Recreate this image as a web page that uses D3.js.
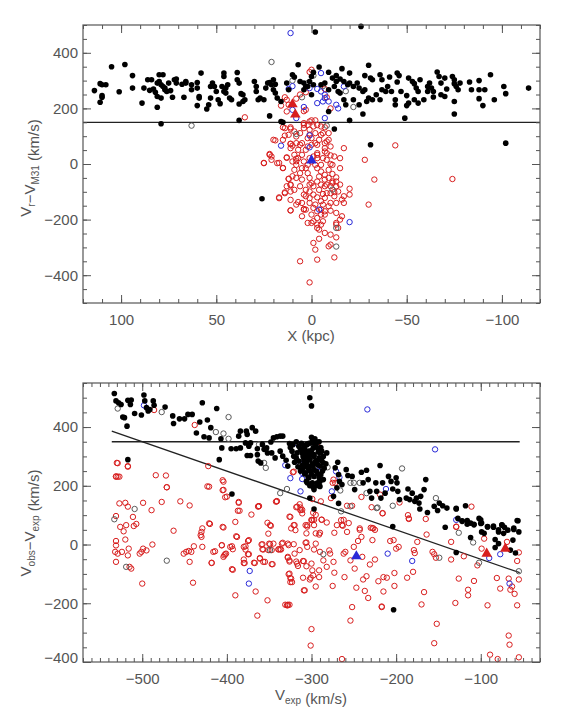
<!DOCTYPE html>
<html><head><meta charset="utf-8">
<script src="https://cdn.jsdelivr.net/npm/d3@7"></script>
<style>body{margin:0;background:#fff}svg{display:block}</style>
</head><body><svg id="chart" width="565" height="715"></svg>
<script>
// ---------- TOP PANEL DATA: [X (kpc), Vr - VM31 (km/s)] ----------
const topBlack = [[114,264],[111,289],[110,285],[108,285],[111,222],[110,246],[110,240],[105,350],[101,260],[98,358],[94,318],[94,273],[89,219],[88,273],[86,303],[84,303],[85,265],[82,258],[83,270],[81,291],[80,321],[78,321],[80,297],[79,285],[78,279],[77,267],[76,261],[74,264],[77,273],[75,291],[81,243],[79,237],[81,204],[73,240],[72,303],[71,306],[71,291],[68,287],[67,240],[66,297],[66,291],[63,267],[63,285],[60,293],[60,273],[58,327],[59,243],[59,237],[60,210],[55,198],[54,213],[53,237],[53,279],[52,291],[51,279],[50,261],[49,231],[48,217],[47,279],[46,327],[46,315],[46,261],[45,273],[44,285],[45,255],[43,237],[42,231],[39,329],[39,303],[38,291],[38,216],[37,253],[36,249],[36,225],[35,231],[38,157],[30,297],[29,279],[29,261],[28,231],[27,237],[25,231],[24,273],[23,291],[22,293],[21,285],[20,303],[19,287],[20,267],[19,255],[18,237],[16,225],[22,173],[16,153],[13,291],[12,267],[10,321],[9,313],[7,357],[6,297],[4,291],[3,279],[1,297],[0,315],[-1,285],[79,145],[26,-125],[15,150],
[-2,475],[-26,495],[-4,349],[-1,330],[-16,343],[-20,327],[-30,355],[-28,318],[-31,309],[-32,303],[-36,321],[-37,303],[-41,313],[-45,327],[-46,318],[-45,295],[-51,309],[-53,297],[-54,289],[-57,303],[-55,273],[-56,261],[-61,279],[-62,291],[-63,273],[-64,261],[-64,241],[-66,331],[-67,315],[-68,291],[-70,309],[-71,270],[-74,315],[-75,303],[-75,289],[-76,279],[-77,267],[-78,291],[-75,225],[-75,180],[-83,295],[-84,267],[-88,300],[-88,267],[-88,235],[-91,267],[-90,210],[-94,321],[-96,231],[-101,279],[-102,253],[-114,273],[-49,165],[-20,157],[-27,180],[-12,126],[-9,330],[-11,309],[-13,318],[-13,297],[-15,306],[-17,297],[-19,285],[-20,291],[-22,279],[-24,291],[-25,273],[-27,261],[-28,267],[-30,237],[-32,231],[-34,249],[-36,231],[-37,267],[-39,261],[-40,279],[-42,261],[-44,231],[-47,261],[-50,246],[-51,219],[-54,231],[-56,219],[-59,231],[-61,261],[-68,249],[-70,243],[-17,231],[-22,231],[-18,213],[-25,213],[-29,225],[-44,213],[-50,210],[-5,285],[-7,291],[-9,267],[-12,279],[-14,261],[0,249],[2,279],[4,267],[-9,189],[-15,255],[-102,75],[-31,69]];
const topRed = [[35,168],[15,132],[11,127],[19,85],[15,87],[11,72],[8,75],[22,36],[21,27],[25,3],[18,3],[15,-15],[13,24],[9,33],[8,19],[8,10],[9,-21],[10,-44],[12,-53],[11,-74],[9,-93],[14,-105],[17,-123],[11,-129],[7,-137],[11,-167],[4,-162],[3,-164],[5,-188],[2,-212],[0,-212],[-3,-230],[-4,-236],[-3,-218],[-5,-218],[-7,-248],[-4,-269],[-1,-284],[-2,-308],[6,-350],[-3,-344],[1,-426],[-9,-296],[-10,-290],[-12,-336],[-10,-254],[-13,-264],[-14,-230],[-13,-218],[-15,-200],[-13,-212],[-16,-188],[-13,-176],[-10,-168],[-7,-170],[-6,-146],[-10,-140],[-13,-140],[-17,-140],[-20,-110],[-20,-89],[-17,-116],[-16,-128],[-30,-146],[-33,-56],[-28,15],[-44,67],[-17,57],[-15,21],[-15,-15],[-13,-48],[-13,-63],[-11,-68],[-9,-50],[-11,-36],[-10,0],[-10,31],[-12,27],[-8,39],[-7,57],[-7,75],[-8,81],[-5,105],[-6,111],[-7,132],[-9,111],[-4,87],[-3,69],[-3,39],[-3,21],[-2,-3],[-3,-15],[-5,-27],[-4,-45],[-3,-63],[-5,-74],[-7,-80],[-4,-93],[-6,-108],[-3,-120],[-7,-122],[-8,-105],[-5,-134],[-2,-146],[1,-140],[3,-116],[3,-93],[1,-74],[0,-69],[-1,-80],[1,-50],[2,-33],[3,-15],[2,-3],[4,9],[5,33],[3,51],[2,63],[5,75],[7,51],[6,111],[4,129],[2,141],[1,123],[-1,135],[-2,111],[0,93],[2,93],[1,105],[4,147],[1,153],[6,-33],[8,-50],[5,-56],[6,-80],[4,-110],[1,-99],[1,-123],[-1,-110],[-1,-158],[-3,-170],[0,-182],[-5,-182],[-3,-194],[-7,-182],[-6,-206],[-1,-206],[-5,-164],[-9,-152],[-12,-116],[-10,-105],[-12,-101],[-13,-80],[-10,-80],[-8,-74],[-7,-56],[-7,-39],[-5,-3],[-8,15],[-6,21],[-7,45],[-3,33],[-1,27],[0,9],[1,21],[7,21],[8,-3],[10,9],[5,-15],[11,-99],[13,-80],[4,-164],[8,-146],[5,-140],[-11,-63],[-15,-74],[-14,-99],[-9,-21],[-11,-3],[-10,63],[-9,87],[0,69],[-2,75],[8,99],[11,57],[6,69],[9,117],[12,105],
[25,4],[22,33],[21,15],[20,87],[17,4],[15,-14],[13,22],[17,-120],[14,-102],[11,-167],[12,-54],[11,-76],[14,129],[14,102],[11,73],[10,66],[-74,-54],
[13,231],[13,189],[12,213],[1,331],[11,132],[4,141],[0,339],[3,258],[3,195],[4,190],[0,157],[-2,157],[-3,140],[-5,135],[8,235],[6,250],[-8,240],[-10,200],[16,210],[14,240],[-7,270]];
const topBlue = [[11,471],[16,66],[10,195],[8,165],[10,280],[12,270],[-5,327],[-5,261],[-7,249],[-7,237],[-3,270],[-6,225],[-9,225],[-13,213],[-14,200],[-17,279],[-7,165],[1,273],[4,205],[-3,219],[1,103],[1,60],[-4,-164],[-20,-209]];
const topGray = [[21,367],[63,138],[-1,318],[2,291],[-22,205],[-8,138],[8,108],[-11,-92],[-13,-297],[-13,-230],[10,300],[-6,280],[-18,262],[5,240]];
const topRedTri = [[10,215],[8.5,178]];
const topBlueTri = [[0,13]];
const topCutLine = [[120,150],[-120,150]];

// ---------- BOTTOM PANEL DATA: [V_exp, V_obs - V_exp] (km/s) ----------
const botBlack = [[-533,514],[-531,489],[-528,483],[-525,477],[-517,491],[-513,492],[-514,477],[-523,434],[-521,432],[-518,403],[-509,446],[-501,441],[-498,509],[-497,489],[-495,466],[-493,455],[-491,460],[-487,489],[-486,474],[-473,468],[-464,438],[-463,412],[-456,428],[-450,428],[-446,443],[-441,443],[-429,483],[-432,417],[-423,424],[-412,463],[-419,398],[-436,380],[-427,367],[-421,363],[-407,360],[-406,329],[-409,289],[-394,172],[-517,289],[-395,326],[-389,326],[-386,369],[-384,386],[-377,386],[-376,375],[-370,398],[-366,386],[-378,346],[-374,335],[-372,346],[-384,329],[-376,303],[-372,303],[-364,326],[-364,306],[-358,341],[-356,324],[-363,284],[-360,278],[-353,329],[-352,312],[-348,349],[-347,312],[-345,363],[-341,367],[-337,369],[-334,369],[-343,295],[-337,318],[-334,301],[-330,287],[-328,267],[-326,344],[-323,318],[-321,301],[-317,312],[-315,284],[-313,324],[-311,255],[-309,295],[-307,278],[-306,312],[-304,267],[-302,500],[-300,472],[-302,289],[-300,346],[-302,158],
[-299,352],[-293,349],[-282,312],[-311,312],[-308,295],[-306,278],[-303,318],[-302,289],[-299,267],[-297,306],[-295,284],[-294,249],[-293,329],[-291,295],[-290,267],[-289,238],[-288,318],[-286,278],[-286,221],[-303,227],[-307,244],[-305,210],[-299,210],[-297,187],[-293,210],[-290,198],[-310,261],[-301,249],[-297,232],[-291,227],[-309,335],[-305,341],[-298,329],[-295,341],[-290,312],[-301,306],[-307,306],[-304,261],[-293,272],[-289,289],[-297,121],[-274,164],[-270,193],[-269,280],[-272,261],[-268,238],[-267,215],[-264,204],[-259,255],[-257,235],[-252,232],[-249,187],[-241,246],[-235,253],[-233,221],[-239,210],[-231,181],[-229,158],[-224,210],[-219,269],[-223,181],[-218,158],[-216,210],[-213,175],[-209,232],[-206,215],[-200,227],[-199,210],[-204,189],[-198,181],[-196,153],[-188,158],[-186,189],[-178,147],[-176,158],[-173,141],[-171,164],[-167,187],[-165,221],[-172,121],[-163,109],[-155,130],[-149,141],[-145,132],[-140,124],[-151,116],[-129,121],[-118,132],[-122,79],[-116,82],[-112,73],[-108,67],[-100,84],[-99,73],[-92,61],[-85,59],[-79,50],[-75,67],[-72,59],[-61,56],[-57,82],[-142,59],[-184,153],[-181,175],[-204,61],
[-268,140],[-203,-222],[-129,-27],[-112,24],[-129,123],[-127,89],[-122,81],[-116,69],[-108,69],[-102,89],[-100,72],[-99,43],[-96,38],[-92,60],[-85,63],[-83,17],[-79,43],[-79,3],[-75,66],[-73,38],[-68,49],[-62,15],[-61,51],[-56,81],[-55,43],[-59,-29],[-65,-19],[-83,-10],
[-325,330],[-322,340],[-318,350],[-315,335],[-312,345],[-310,300],[-308,325],[-306,340],[-320,280],[-316,265],[-313,250],[-311,270],[-318,295],[-305,300],[-303,255],[-308,240],[-304,230],[-300,240],[-297,255],[-302,200],[-306,215],[-298,195],[-294,200],[-290,215],[-287,250],[-285,260],[-283,275],[-292,315],[-289,330],[-296,360],[-300,365],[-303,345],[-291,350],[-286,300],[-288,285],[-294,285],[-297,300],[-300,320],[-304,315],[-309,285],[-292,240],[-299,275],[-306,265]];
const botRed = [[-529,277],[-529,231],[-531,231],[-527,231],[-517,265],[-527,140],[-531,97],[-526,60],[-522,45],[-519,66],[-520,142],[-517,129],[-511,94],[-510,63],[-507,70],[-531,-3],[-531,12],[-532,-25],[-531,-59],[-529,-31],[-524,-25],[-520,17],[-516,-14],[-517,-37],[-515,-76],[-513,-82],[-501,-25],[-503,-31],[-499,-14],[-495,-20],[-500,-133],[-488,0],[-499,142],[-489,117],[-472,235],[-471,195],[-477,145],[-463,47],[-455,147],[-444,133],[-451,-31],[-448,-25],[-445,-22],[-442,-25],[-439,-6],[-444,-59],[-440,-130],[-430,26],[-429,55],[-429,-8],[-421,197],[-420,70],[-418,-63],[-414,-23],[-406,-2],[-405,60],[-403,-37],[-401,-31],[-404,214],[-404,186],[-400,163],[-394,-6],[-393,-86],[-390,-173],[-388,26],[-386,142],[-385,115],[-390,77],[-380,-8],[-378,-17],[-379,-63],[-374,15],[-375,-33],[-371,102],[-367,-63],[-366,-160],[-364,-242],[-362,131],[-358,1],[-361,-48],[-357,-17],[-355,-59],[-352,74],[-351,37],[-349,66],[-352,-190],[-351,-19],[-349,1],[-346,-67],[-345,3],[-341,148],[-339,-17],[-336,-17],[-334,6],[-328,-207],[-326,-205],[-327,-2],[-328,-42],[-326,-54],[-326,-99],[-324,-116],[-323,-128],[-320,-31],[-321,1],[-319,49],[-325,94],[-320,66],[-321,248],
[-430,43],[-421,72],[-431,32],[-404,58],[-363,129],[-342,146],[-348,64],[-389,28],[-375,12],[-406,-3],[-396,-8],[-393,-16],[-416,-25],[-418,-62],[-402,-33],[-404,-42],[-394,-84],[-380,-51],[-380,-63],[-378,-6],[-374,-33],[-368,-62],[-361,-46],[-357,-59],[-358,-16],[-359,0],[-350,3],[-347,-19],[-347,-67],[-339,-16],[-337,-16],[-335,3],[-331,-205],[-328,-205],[-328,-45],[-326,-58],[-327,-101],[-325,-114],[-325,-128],[-318,-58],[-317,-65],[-316,-73],[-310,-56],[-310,-113],[-309,-156],[-302,-119],[-300,-65],[-300,-288],[-301,-344],[-314,-19],[-307,66],[-306,7],[-306,38],[-311,106],[-313,126],[-321,66],[-324,55],[-326,95],[-328,3],[-314,137],[-313,117],[-317,129],[-300,83],[-298,108],
[-305,66],[-307,6],[-299,83],[-297,66],[-295,38],[-291,34],[-290,40],[-288,85],[-295,3],[-290,-25],[-297,-17],[-305,-8],[-309,-57],[-306,-74],[-301,-113],[-308,-156],[-298,-105],[-295,-143],[-299,-88],[-291,-88],[-291,-111],[-286,-54],[-282,-76],[-279,-20],[-278,-31],[-274,-59],[-275,-141],[-273,40],[-273,-96],[-270,66],[-265,83],[-264,66],[-262,-31],[-260,-25],[-261,-111],[-258,43],[-254,-54],[-252,-213],[-254,-259],[-250,-8],[-249,-82],[-247,-147],[-245,12],[-243,55],[-241,26],[-240,-42],[-239,-119],[-237,-158],[-233,-182],[-235,-108],[-231,-68],[-230,57],[-227,55],[-228,15],[-225,-51],[-221,-125],[-217,-211],[-215,-111],[-215,-160],[-211,-113],[-207,12],[-203,15],[-202,-97],[-202,-141],[-200,-14],[-197,-8],[-187,-113],[-180,-93],[-178,-29],[-179,-19],[-175,9],[-170,-204],[-167,-162],[-164,34],[-157,-25],[-155,-33],[-153,-45],[-152,-270],[-155,-336],[-135,9],[-135,-51],[-130,-199],[-129,60],[-126,-116],[-120,-40],[-115,-154],[-115,-173],[-108,-124],[-104,-71],[-99,-14],[-96,20],[-92,-207],[-89,-375],[-81,-114],[-80,-390],[-77,-150],[-69,9],[-67,-116],[-67,-310],[-66,-341],[-65,-154],[-63,-143],[-60,-168],[-57,-207],[-57,-56],[-55,-27],[-55,-119],[-55,-384],[-111,129],[-186,100],[-216,106],[-185,89],[-264,-390],[-329,-207],[-217,-213],
[-293,335],[-299,155],[-289,147],[-274,221],[-275,210],[-277,158],[-258,132],[-252,132],[-241,162],[-229,127],[-216,107],[-219,170],[-196,143],[-185,87],[-165,87],[-129,61],[-272,210],[-311,118],[-305,61],[-297,84],[-295,101],[-288,84],[-282,75],[-262,84],[-256,73],[-263,64],[-243,50],[-228,56],[-225,50],
[-486,458],[-438,407],[-422,267],[-405,219],[-405,185],[-402,161],[-423,198],[-386,145],[-387,115],[-363,130],[-341,147],[-322,246],[-318,127],[-313,118],[-300,84],[-471,195],[-484,236],[-530,278],[-531,232],[-517,267]];
const botBlue = [[-498,474],[-317,344],[-331,270],[-325,226],[-314,276],[-311,223],[-313,181],[-234,460],[-154,324],[-276,181],[-271,249],[-267,229],[-290,264],[-212,189],[-129,84],[-311,244],[-210,-31],[-181,-56],[-90,-46],[-77,-33],[-66,-133],[-373,-90],[-374,-133]];
const botGray = [[-529,463],[-477,451],[-398,434],[-413,383],[-404,378],[-398,360],[-362,341],[-356,278],[-354,261],[-337,175],[-329,189],[-509,121],[-533,86],[-281,263],[-254,210],[-250,210],[-243,210],[-254,130],[-265,113],[-266,184],[-223,124],[-235,175],[-193,259],[-153,158],[-204,132],[-286,-33],[-222,126],[-149,-45],[-126,40],[-109,7],[-102,-62],[-55,-91],[-519,-76],[-471,-55],[-349,-19]];
const botRedTri = [[-93,-31],[-71,-14]];
const botBlueTri = [[-247,-40]];
const botHLine = [[-536,350],[-54,350]];
const botDiag = [[-536,386],[-54,-96]];

// ---------- TICKS ----------
const topXTicks = [100,50,0,-50,-100];
const topYTicks = [-400,-200,0,200,400];
const botXTicks = [-500,-400,-300,-200,-100];
const botYTicks = [-400,-200,0,200,400];

const AX = '#555', RED = '#d81e1e', BLUE = '#2a2ad8', GRAY = '#5a5a5a';
const FONT = '"Liberation Sans", Arial, Helvetica, sans-serif';
const svg = d3.select('#chart');

function panel(p) {
  const g = svg.append('g');
  const x = d3.scaleLinear().domain(p.xDom).range([83, 540]);
  const y = d3.scaleLinear().domain(p.yDom).range([p.y1, p.y0]);
  const line = d3.line().x(d => x(d[0])).y(d => y(d[1]));
  p.lines.forEach(l => g.append('path').attr('d', line(l)).attr('fill','none').attr('stroke','#222').attr('stroke-width',1.3));

  const open = (arr, col) => g.append('g').selectAll('circle').data(arr).join('circle')
     .attr('cx', d => x(d[0])).attr('cy', d => y(d[1])).attr('r', 2.7)
     .attr('fill','none').attr('stroke', col).attr('stroke-width', 1);
  open(p.red, RED); open(p.gray, GRAY); open(p.blue, BLUE);
  g.append('g').selectAll('circle').data(p.black).join('circle')
     .attr('cx', d => x(d[0])).attr('cy', d => y(d[1])).attr('r', 2.8).attr('fill','#000');
  const tri = d3.symbol(d3.symbolTriangle, 48);
  const tris = (arr, col) => g.append('g').selectAll('path').data(arr).join('path')
     .attr('d', tri).attr('transform', d => `translate(${x(d[0])},${y(d[1])})`).attr('fill', col);
  tris(p.redTri, RED); tris(p.blueTri, BLUE);

  // axes
  const xMinor = d3.range(Math.ceil(Math.min(...p.xDom)/10)*10, Math.max(...p.xDom)+0.1, 10);
  const yMinor = d3.range(Math.ceil(Math.min(...p.yDom)/50)*50, Math.max(...p.yDom)+0.1, 50);
  const mk = (axisFn, scale, vals, size, labels, pad) => {
    const a = axisFn(scale).tickValues(vals).tickSize(size).tickSizeOuter(0).tickPadding(pad || 3);
    if (!labels) a.tickFormat('');
    return a;
  };
  const place = (ax, tx, ty) => {
    const s = g.append('g').attr('transform', `translate(${tx},${ty})`).call(ax);
    s.select('.domain').remove();
    s.selectAll('line').attr('stroke', AX);
    s.selectAll('text').attr('fill', AX).style('font-family', FONT).style('font-size','15px');
    return s;
  };
  place(mk(d3.axisBottom, x, xMinor, -4), 0, p.y1);
  place(mk(d3.axisBottom, x, p.xTicks, -8, true, 11), 0, p.y1);
  place(mk(d3.axisTop, x, xMinor, -4), 0, p.y0);
  place(mk(d3.axisTop, x, p.xTicks, -8), 0, p.y0);
  place(mk(d3.axisLeft, y, yMinor, -4), 83, 0);
  const yl = place(mk(d3.axisLeft, y, p.yTicks, -8, true, 5), 83, 0);
  if (p.lowLabelShift) yl.selectAll('.tick').filter(d => d === p.yTicks[0]).select('text').attr('y', -p.lowLabelShift);
  place(mk(d3.axisRight, y, yMinor, -4), 540, 0);
  place(mk(d3.axisRight, y, p.yTicks, -8), 540, 0);
  g.append('rect').attr('x',83).attr('y',p.y0).attr('width',457).attr('height',p.y1-p.y0)
    .attr('fill','none').attr('stroke',AX).attr('stroke-width',1.2);

  // titles
  const xt = g.append('text').attr('x', 311).attr('y', p.y1 + 38).attr('text-anchor','middle')
    .attr('fill', AX).style('font-family', FONT).style('font-size','15px');
  p.xTitle(xt);
  const yt = g.append('text').attr('transform', `translate(31,${p.yMid}) rotate(-90)`).attr('text-anchor','middle')
    .attr('fill', AX).style('font-family', FONT).style('font-size','15px');
  p.yTitle(yt);
}
function sub(t, main, s) {
  t.append('tspan').text(main);
  t.append('tspan').attr('dy', 4).style('font-size','10px').text(s);
  t.append('tspan').attr('dy', -4).text('');
}

panel({xDom:[120,-120], yDom:[-500,500], y0:25, y1:303, yMid:168,
  xTicks: topXTicks, yTicks: topYTicks,
  black: topBlack, red: topRed, blue: topBlue, gray: topGray, redTri: topRedTri, blueTri: topBlueTri,
  lines: [topCutLine],
  xTitle: t => t.text('X (kpc)'),
  yTitle: t => { sub(t,'V','r'); sub(t,'\u2212V','M31'); t.append('tspan').text(' (km/s)'); }
});
panel({xDom:[-570,-30], yDom:[-400,550], y0:383, y1:662, yMid:523, lowLabelShift: 4,
  xTicks: botXTicks, yTicks: botYTicks,
  black: botBlack, red: botRed, blue: botBlue, gray: botGray, redTri: botRedTri, blueTri: botBlueTri,
  lines: [botHLine, botDiag],
  xTitle: t => { sub(t,'V','exp'); t.append('tspan').text(' (km/s)'); },
  yTitle: t => { sub(t,'V','obs'); sub(t,'\u2212V','exp'); t.append('tspan').text(' (km/s)'); }
});
</script></body></html>
